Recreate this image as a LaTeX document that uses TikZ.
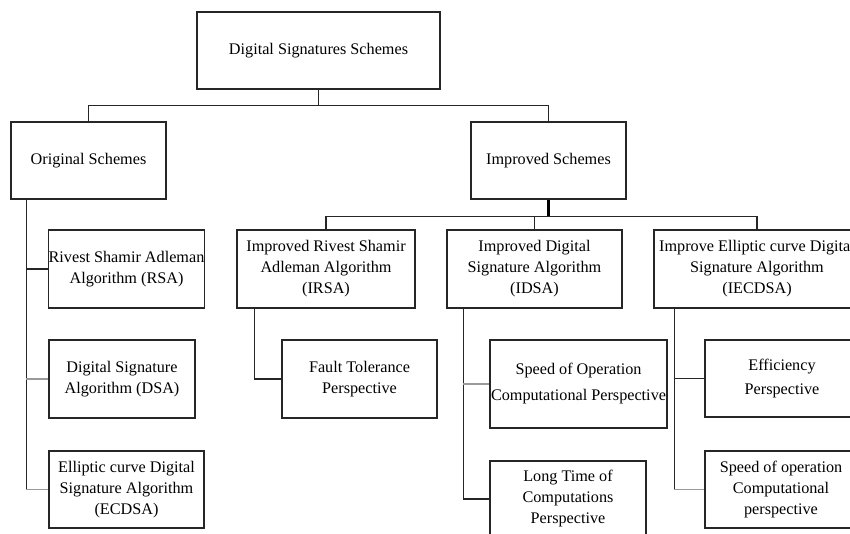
\documentclass[tikz,border=0pt]{standalone}
\usepackage{fontspec}
\setmainfont{Liberation Serif}
\begin{document}
\begin{tikzpicture}[x=1pt,y=-1pt,
  box/.style={draw=black!85,line width=1.4pt,rectangle,inner sep=0pt,align=center,
    font=\fontsize{16.2}{21}\selectfont},
  link/.style={draw=black!85,line width=1.4pt},
  glink/.style={draw=black!40,line width=1.6pt}]
\clip (0,0) rectangle (850,534);
\fill[white] (0,0) rectangle (850,534);
% nodes
\node[box,minimum width=243pt,minimum height=77pt] (top) at (318.5,50.5) {Digital Signatures Schemes};
\node[box,minimum width=155pt,minimum height=77pt] (orig) at (88.5,160.5) {Original Schemes};
\node[box,minimum width=155pt,minimum height=77pt] (impr) at (548.5,160.5) {Improved Schemes};
\node[box,minimum width=155pt,minimum height=78pt] (rsa) at (126.5,269) {Rivest Shamir Adleman\\Algorithm (RSA)};
\node[box,minimum width=146pt,minimum height=78pt] (dsa) at (122,379) {Digital Signature\\Algorithm (DSA)};
\node[box,minimum width=155pt,minimum height=77pt] (ecdsa) at (126.5,489.5) {Elliptic curve Digital\\Signature Algorithm\\(ECDSA)};
\node[box,minimum width=178pt,minimum height=78pt] (irsa) at (326,269) {Improved Rivest Shamir\\Adleman Algorithm\\(IRSA)};
\node[box,minimum width=175pt,minimum height=78pt] (idsa) at (534.5,269) {Improved Digital\\Signature Algorithm\\(IDSA)};
\node[box,minimum width=206pt,minimum height=78pt] (iecdsa) at (757,269) {Improve Elliptic curve Digital\\Signature Algorithm\\(IECDSA)};
\node[box,minimum width=155pt,minimum height=78pt] (fault) at (359.5,379) {Fault Tolerance\\Perspective};
\node[box,minimum width=177pt,minimum height=88pt] (speed) at (578.5,384) {Speed of Operation\\[5pt]Computational Perspective};
\node[box,minimum width=156pt,minimum height=76pt] (long) at (568,499) {Long Time of\\Computations\\Perspective};
\node[box,minimum width=154pt,minimum height=77pt] (eff) at (782,378.5) {Efficiency\\[3pt]Perspective};
\node[box,minimum width=152pt,minimum height=77pt] (speedb) at (781,489.5) {Speed of operation\\Computational\\perspective};
% top level connectors
\draw[link] (top.south) -- ++(0,16) coordinate (j1);
\draw[link] (j1) -| (orig.north);
\draw[link] (j1) -| (impr.north);
% improved
\draw[draw=black,line width=2.4pt] (impr.south) -- ++(0,17) coordinate (j2);
\draw[link] (j2) -| (irsa.north);
\draw[link] (j2) -| (idsa.north);
\draw[link] (j2) -| (iecdsa.north);
% original column
\coordinate (l0) at ([xshift=16pt]orig.south west);
\draw[link] (l0) -- (l0 |- ecdsa.west);
\draw[link] (l0 |- rsa.west) -- (rsa.west);
\draw[glink] (l0 |- dsa.west) -- (dsa.west);
\draw[glink] (l0 |- ecdsa.west) -- (ecdsa.west);
% IRSA
\coordinate (l1) at ([xshift=18pt]irsa.south west);
\draw[link] (l1) |- (fault.west);
% IDSA
\coordinate (l2) at ([xshift=17pt]idsa.south west);
\draw[link] (l2) |- (long.west);
\draw[glink] (l2 |- speed.west) -- (speed.west);
% IECDSA
\coordinate (l3) at ([xshift=21pt]iecdsa.south west);
\draw[link] (l3) -- (l3 |- speedb.west);
\draw[link] (l3 |- eff.west) -- (eff.west);
\draw[glink] (l3 |- speedb.west) -- (speedb.west);
\end{tikzpicture}
\end{document}
